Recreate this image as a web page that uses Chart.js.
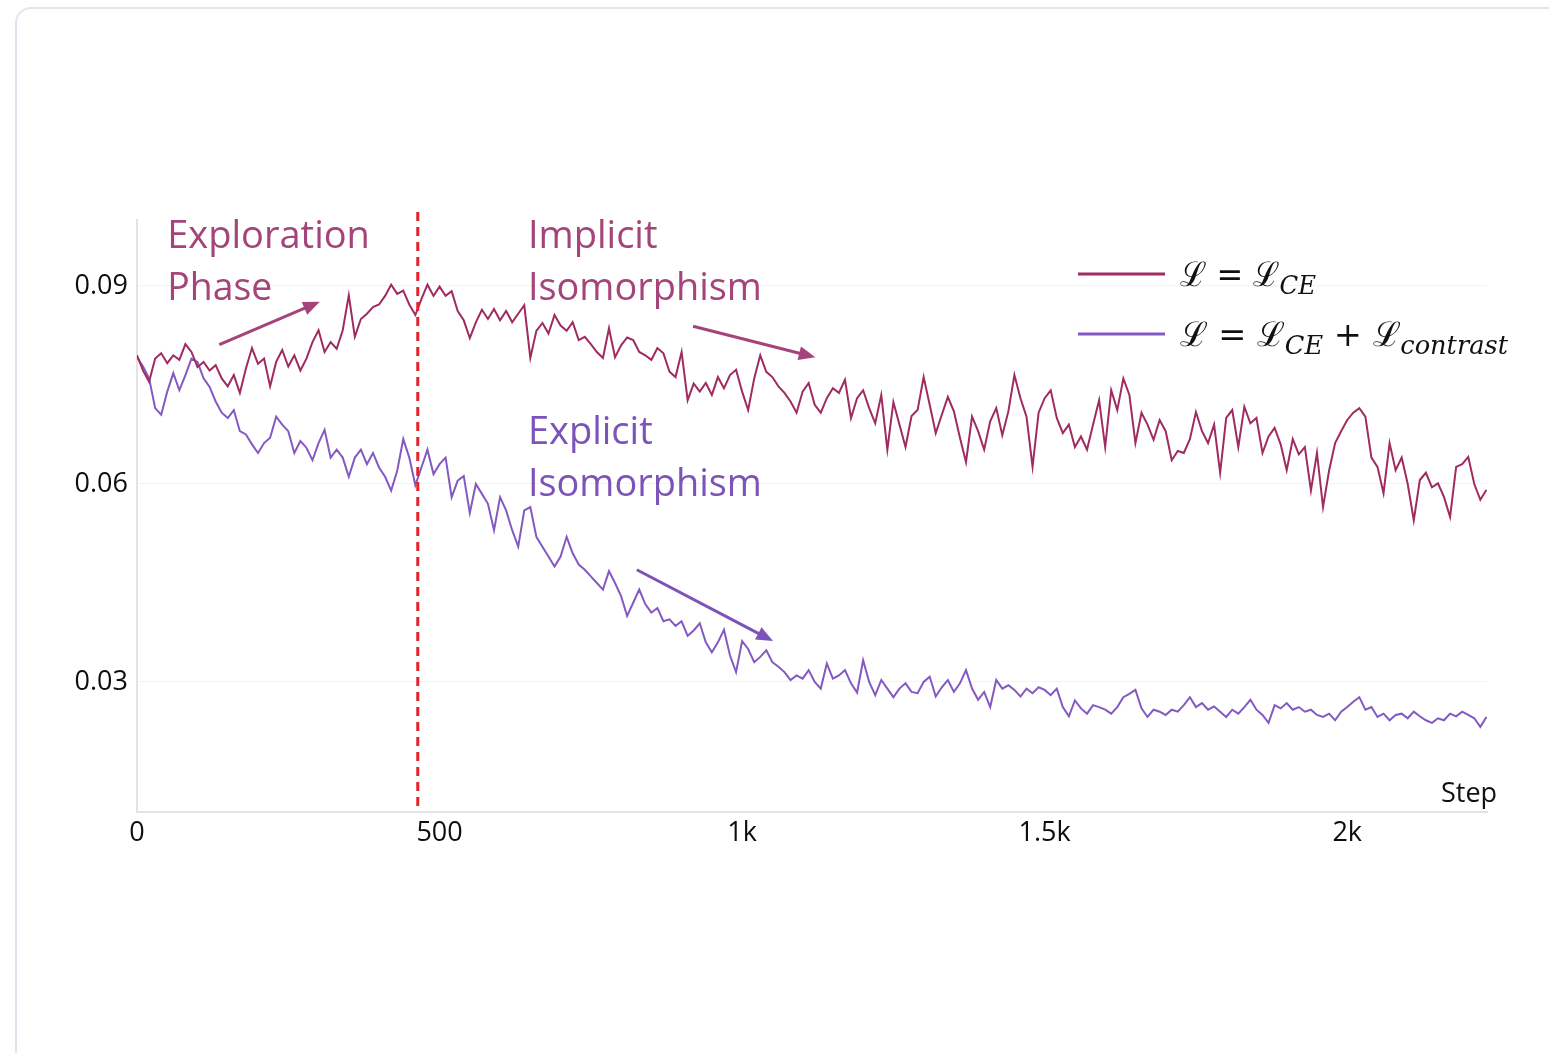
<!DOCTYPE html>
<html>
<head>
<meta charset="utf-8">
<title>Loss curves</title>
<script src="https://cdn.jsdelivr.net/npm/chart.js@4.4.1/dist/chart.umd.min.js"></script>
<style>
    html, body { margin: 0; padding: 0; background: #ffffff; overflow: hidden; }
    #card {
        position: absolute; left: 15px; top: 7px; width: 1600px; height: 1100px;
        border: 2px solid #e1e6ee; border-radius: 16px; background: #ffffff;
    }
    #grafico { position: absolute; left: 0; top: 0; }
</style>
</head>
<body>
<div id="card"></div>
<canvas id="grafico" width="1549" height="1053"></canvas>
<script>
// sampling interval of the read-off values (training steps)
const STEP_SIZE = 10;

// L = L_CE, one value every STEP_SIZE steps starting at 0
const lossCE = [
    0.0795, 0.0772, 0.0755, 0.0790, 0.0798, 0.0783, 0.0795, 0.0788, 0.0812, 0.0800,
    0.0777, 0.0785, 0.0772, 0.0780, 0.0760, 0.0748, 0.0765, 0.0738, 0.0775, 0.0806,
    0.0782, 0.0790, 0.0748, 0.0785, 0.0803, 0.0778, 0.0795, 0.0772, 0.0790, 0.0815,
    0.0833, 0.0800, 0.0815, 0.0805, 0.0833, 0.0886, 0.0823, 0.0850, 0.0858, 0.0868,
    0.0872, 0.0885, 0.0902, 0.0888, 0.0893, 0.0872, 0.0856, 0.0880, 0.0902, 0.0885,
    0.0899, 0.0885, 0.0892, 0.0862, 0.0848, 0.0821, 0.0845, 0.0864, 0.0850, 0.0865,
    0.0848, 0.0862, 0.0845, 0.0858, 0.0871, 0.0791, 0.0832, 0.0844, 0.0828, 0.0856,
    0.0840, 0.0832, 0.0845, 0.0818, 0.0823, 0.0812, 0.0800, 0.0791, 0.0836, 0.0792,
    0.0810, 0.0822, 0.0818, 0.0800, 0.0795, 0.0788, 0.0806, 0.0798, 0.0770, 0.0762,
    0.0800, 0.0727, 0.0752, 0.0740, 0.0753, 0.0735, 0.0762, 0.0745, 0.0765, 0.0773,
    0.0740, 0.0712, 0.0760, 0.0795, 0.0770, 0.0762, 0.0748, 0.0738, 0.0725, 0.0708,
    0.0740, 0.0753, 0.0720, 0.0708, 0.0730, 0.0745, 0.0738, 0.0758, 0.0700, 0.0730,
    0.0742, 0.0715, 0.0692, 0.0735, 0.0652, 0.0724, 0.0690, 0.0656, 0.0703, 0.0712,
    0.0762, 0.0720, 0.0677, 0.0705, 0.0732, 0.0710, 0.0670, 0.0633, 0.0702, 0.0680,
    0.0652, 0.0695, 0.0715, 0.0674, 0.0710, 0.0765, 0.0730, 0.0702, 0.0626, 0.0708,
    0.0730, 0.0742, 0.0700, 0.0677, 0.0690, 0.0656, 0.0672, 0.0652, 0.0690, 0.0727,
    0.0656, 0.0742, 0.0712, 0.0760, 0.0735, 0.0662, 0.0708, 0.0690, 0.0667, 0.0697,
    0.0680, 0.0636, 0.0650, 0.0647, 0.0668, 0.0709, 0.0680, 0.0662, 0.0690, 0.0617,
    0.0700, 0.0712, 0.0656, 0.0717, 0.0692, 0.0700, 0.0647, 0.0672, 0.0685, 0.0660,
    0.0621, 0.0668, 0.0645, 0.0656, 0.0590, 0.0647, 0.0565, 0.0620, 0.0662, 0.0680,
    0.0697, 0.0708, 0.0715, 0.0702, 0.0640, 0.0626, 0.0586, 0.0662, 0.0621, 0.0640,
    0.0600, 0.0545, 0.0606, 0.0617, 0.0595, 0.0601, 0.0580, 0.0550, 0.0626, 0.0630,
    0.0641, 0.0600, 0.0576, 0.0591
];

// L = L_CE + L_contrast
const lossContrast = [
    0.0792, 0.0778, 0.0760, 0.0715, 0.0705, 0.0740, 0.0768, 0.0742, 0.0765, 0.0790,
    0.0785, 0.0760, 0.0747, 0.0725, 0.0708, 0.0700, 0.0712, 0.0680, 0.0675, 0.0660,
    0.0647, 0.0662, 0.0670, 0.0702, 0.0690, 0.0680, 0.0647, 0.0665, 0.0655, 0.0636,
    0.0662, 0.0682, 0.0640, 0.0652, 0.0640, 0.0611, 0.0640, 0.0652, 0.0630, 0.0647,
    0.0625, 0.0611, 0.0590, 0.0620, 0.0668, 0.0640, 0.0598, 0.0625, 0.0652, 0.0615,
    0.0630, 0.0640, 0.0580, 0.0605, 0.0612, 0.0556, 0.0600, 0.0585, 0.0570, 0.0530,
    0.0580, 0.0560, 0.0530, 0.0505, 0.0560, 0.0565, 0.0520, 0.0505, 0.0490, 0.0475,
    0.0490, 0.0520, 0.0495, 0.0478, 0.0470, 0.0460, 0.0450, 0.0440, 0.0468, 0.0450,
    0.0430, 0.0400, 0.0420, 0.0440, 0.0418, 0.0405, 0.0412, 0.0392, 0.0395, 0.0385,
    0.0392, 0.0370, 0.0378, 0.0389, 0.0360, 0.0345, 0.0360, 0.0379, 0.0340, 0.0315,
    0.0362, 0.0350, 0.0330, 0.0338, 0.0348, 0.0330, 0.0323, 0.0315, 0.0303, 0.0310,
    0.0305, 0.0318, 0.0300, 0.0290, 0.0328, 0.0305, 0.0310, 0.0318, 0.0298, 0.0284,
    0.0333, 0.0300, 0.0280, 0.0303, 0.0290, 0.0277, 0.0290, 0.0298, 0.0285, 0.0283,
    0.0300, 0.0308, 0.0278, 0.0292, 0.0303, 0.0285, 0.0298, 0.0318, 0.0290, 0.0273,
    0.0285, 0.0262, 0.0303, 0.0290, 0.0295, 0.0288, 0.0278, 0.0290, 0.0283, 0.0292,
    0.0288, 0.0280, 0.0290, 0.0262, 0.0248, 0.0272, 0.0260, 0.0252, 0.0265, 0.0262,
    0.0258, 0.0252, 0.0262, 0.0277, 0.0282, 0.0288, 0.0260, 0.0247, 0.0258, 0.0255,
    0.0250, 0.0258, 0.0255, 0.0265, 0.0277, 0.0262, 0.0268, 0.0258, 0.0263, 0.0255,
    0.0247, 0.0258, 0.0252, 0.0262, 0.0273, 0.0258, 0.0250, 0.0238, 0.0265, 0.0260,
    0.0268, 0.0258, 0.0262, 0.0255, 0.0258, 0.0250, 0.0247, 0.0252, 0.0242, 0.0255,
    0.0262, 0.0270, 0.0277, 0.0258, 0.0262, 0.0247, 0.0252, 0.0242, 0.0250, 0.0252,
    0.0245, 0.0255, 0.0248, 0.0242, 0.0238, 0.0245, 0.0242, 0.0252, 0.0248, 0.0255,
    0.0250, 0.0245, 0.0232, 0.0247
];

const xTicks = [0, 500, 1000, 1500, 2000];
const xTickLabels = ['0', '500', '1k', '1.5k', '2k'];
const yTicks = [0.03, 0.06, 0.09];

const phaseBoundary = 464; // red dashed line, in steps

const COLOR_CE = '#9f2b60';
const COLOR_CONTRAST = '#8459c2';
const TEXT_CE = '#a4447a';
const TEXT_CONTRAST = '#7b53b9';

function toPoints(values) {
    return values.map(function (v, i) { return { x: i * STEP_SIZE, y: v }; });
}

// texto de las fases, en coordenadas de datos
const phaseNotes = [
    { text: 'Exploration', x: 50, y: 0.0958, color: TEXT_CE, width: 204 },
    { text: 'Phase', x: 50, y: 0.0879, color: TEXT_CE, width: 105 },
    { text: 'Implicit', x: 646, y: 0.0958, color: TEXT_CE, width: 132 },
    { text: 'Isomorphism', x: 646, y: 0.0879, color: TEXT_CE, width: 234 },
    { text: 'Explicit', x: 646, y: 0.0661, color: TEXT_CONTRAST, width: 127 },
    { text: 'Isomorphism', x: 646, y: 0.0582, color: TEXT_CONTRAST, width: 234 }
];

const phaseArrows = [
    { from: [136, 0.0811], to: [302, 0.0876], color: TEXT_CE },
    { from: [919, 0.0839], to: [1121, 0.0792], color: TEXT_CE },
    { from: [826, 0.0470], to: [1051, 0.0362], color: TEXT_CONTRAST }
];

function drawArrow(ctx, x1, y1, x2, y2, color) {
    const ang = Math.atan2(y2 - y1, x2 - x1);
    const head = 18;
    ctx.save();
    ctx.strokeStyle = color;
    ctx.fillStyle = color;
    ctx.lineWidth = 3;
    ctx.beginPath();
    ctx.moveTo(x1, y1);
    ctx.lineTo(x2 - Math.cos(ang) * head * 0.8, y2 - Math.sin(ang) * head * 0.8);
    ctx.stroke();
    ctx.beginPath();
    ctx.moveTo(x2, y2);
    ctx.lineTo(x2 - head * Math.cos(ang - 0.4), y2 - head * Math.sin(ang - 0.4));
    ctx.lineTo(x2 - head * Math.cos(ang + 0.4), y2 - head * Math.sin(ang + 0.4));
    ctx.closePath();
    ctx.fill();
    ctx.restore();
}

// pinta una fórmula por trozos (letra script + subíndices en cursiva)
function drawFormula(ctx, parts, x, y, targetWidth) {
    let total = 0;
    parts.forEach(function (p) {
        ctx.font = p.font;
        p.w = ctx.measureText(p.t).width;
        total += p.w;
    });
    const k = targetWidth / total;
    ctx.save();
    ctx.translate(x, y);
    ctx.scale(k, 1);
    let cx = 0;
    parts.forEach(function (p) {
        ctx.font = p.font;
        ctx.fillText(p.t, cx, p.dy || 0);
        cx += p.w;
    });
    ctx.restore();
}

const MAIN = '34px "DejaVu Serif"';
const SUB = 'italic 26px "DejaVu Serif"';

const annotations = {
    id: 'annotations',
    afterDatasetsDraw: function (chart) {
        const ctx = chart.ctx;
        const xs = chart.scales.x;
        const ys = chart.scales.y;
        const area = chart.chartArea;

        // línea vertical discontinua
        const bx = xs.getPixelForValue(phaseBoundary);
        ctx.save();
        ctx.strokeStyle = '#e8222b';
        ctx.lineWidth = 3;
        ctx.setLineDash([9, 6]);
        ctx.beginPath();
        ctx.moveTo(bx, area.top - 8);
        ctx.lineTo(bx, area.bottom);
        ctx.stroke();
        ctx.restore();

        ctx.save();
        ctx.textBaseline = 'alphabetic';
        ctx.textAlign = 'left';
        phaseNotes.forEach(function (n) {
            ctx.font = '38px "Open Sans"';
            ctx.fillStyle = n.color;
            ctx.fillText(n.text, xs.getPixelForValue(n.x), ys.getPixelForValue(n.y), n.width);
        });
        ctx.restore();

        phaseArrows.forEach(function (a) {
            drawArrow(ctx,
                xs.getPixelForValue(a.from[0]), ys.getPixelForValue(a.from[1]),
                xs.getPixelForValue(a.to[0]), ys.getPixelForValue(a.to[1]), a.color);
        });

        // leyenda
        const lx = area.right - 409;
        const rows = [
            { color: COLOR_CE, y: area.top + 54, width: 136, parts: [
                { t: 'ℒ', font: MAIN }, { t: ' = ', font: MAIN }, { t: 'ℒ', font: MAIN },
                { t: 'CE', font: SUB, dy: 8 }
            ] },
            { color: COLOR_CONTRAST, y: area.top + 114, width: 328, parts: [
                { t: 'ℒ', font: MAIN }, { t: ' = ', font: MAIN }, { t: 'ℒ', font: MAIN },
                { t: 'CE', font: SUB, dy: 8 }, { t: ' + ', font: MAIN }, { t: 'ℒ', font: MAIN },
                { t: 'contrast', font: SUB, dy: 8 }
            ] }
        ];
        ctx.save();
        rows.forEach(function (r) {
            ctx.strokeStyle = r.color;
            ctx.lineWidth = 3;
            ctx.beginPath();
            ctx.moveTo(lx, r.y);
            ctx.lineTo(lx + 87, r.y);
            ctx.stroke();
            ctx.fillStyle = '#111111';
            ctx.textBaseline = 'alphabetic';
            drawFormula(ctx, r.parts, lx + 102, r.y + 12, r.width);
        });

        // título del eje x
        ctx.font = '27px "Open Sans"';
        ctx.fillStyle = '#111111';
        ctx.textBaseline = 'middle';
        ctx.fillText('Step', area.right - 46, area.bottom - 18);
        ctx.restore();
    }
};

new Chart(document.getElementById('grafico'), {
    type: 'line',
    data: {
        datasets: [
            {
                label: 'L = L_CE',
                data: toPoints(lossCE),
                borderColor: COLOR_CE,
                borderWidth: 2,
                pointRadius: 0,
                tension: 0
            },
            {
                label: 'L = L_CE + L_contrast',
                data: toPoints(lossContrast),
                borderColor: COLOR_CONTRAST,
                borderWidth: 2,
                pointRadius: 0,
                tension: 0
            }
        ]
    },
    options: {
        responsive: false,
        animation: false,
        devicePixelRatio: 1,
        layout: { padding: { left: 0, right: 62, top: 220, bottom: 191 } },
        scales: {
            x: {
                type: 'linear',
                min: 0,
                max: 2231,
                grid: { display: false, drawTicks: false },
                border: { display: true, color: '#e3e3e3', width: 2 },
                afterBuildTicks: function (scale) {
                    scale.ticks = xTicks.map(function (v) { return { value: v }; });
                },
                afterFit: function (scale) { scale.height = 50; },
                ticks: {
                    padding: 5,
                    maxRotation: 0,
                    color: '#0d0d0d',
                    font: { family: 'Open Sans', size: 27 },
                    callback: function (value) {
                        const i = xTicks.indexOf(value);
                        return i >= 0 ? xTickLabels[i] : '';
                    }
                }
            },
            y: {
                min: 0.0103,
                max: 0.1,
                grid: { color: '#f3f3f3', drawTicks: false },
                border: { display: true, color: '#e3e3e3', width: 2 },
                afterBuildTicks: function (scale) {
                    scale.ticks = yTicks.map(function (v) { return { value: v }; });
                },
                afterFit: function (scale) { scale.width = 137; },
                ticks: {
                    padding: 9,
                    color: '#0d0d0d',
                    font: { family: 'Open Sans', size: 27 },
                    callback: function (value) { return value.toFixed(2); }
                }
            }
        },
        plugins: {
            legend: { display: false },
            tooltip: { enabled: false }
        }
    },
    plugins: [annotations]
});
</script>
</body>
</html>
